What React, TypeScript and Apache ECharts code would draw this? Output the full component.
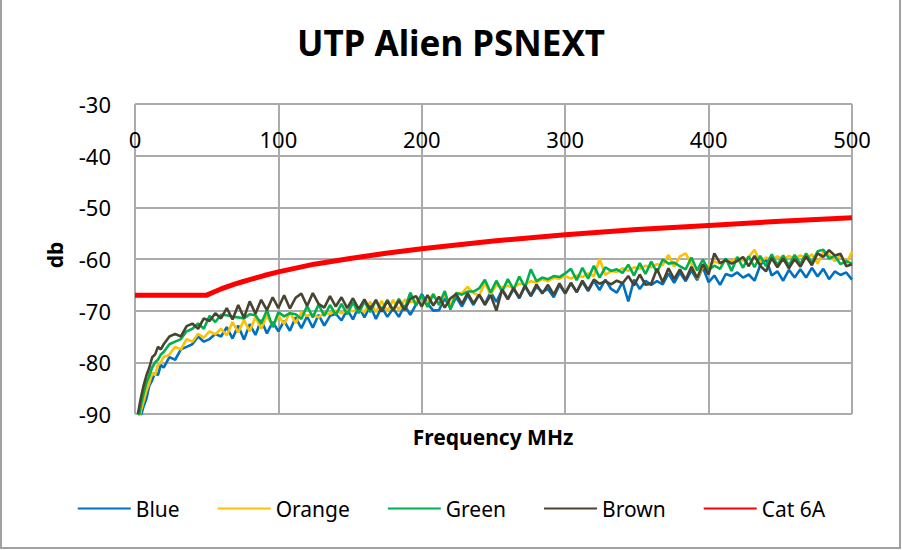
import React, { useEffect, useRef } from "react";
import * as echarts from "echarts";

const TITLE = "UTP Alien PSNEXT";
const X_NAME = "Frequency MHz";
const Y_NAME = "db";

const FREQ = [
  2, 4, 6, 8, 10, 12, 14, 16, 18, 20,
  24, 28, 32, 36, 40, 44, 48, 52, 56, 60,
  64, 68, 72, 76, 80, 84, 88, 92, 96, 100,
  104, 108, 112, 116, 120, 124, 128, 132, 136, 140,
  144, 148, 152, 156, 160, 164, 168, 172, 176, 180,
  184, 188, 192, 196, 200, 204, 208, 212, 216, 220,
  224, 228, 232, 236, 240, 244, 248, 252, 256, 260,
  264, 268, 272, 276, 280, 284, 288, 292, 296, 300,
  304, 308, 312, 316, 320, 324, 328, 332, 336, 340,
  344, 348, 352, 356, 360, 364, 368, 372, 376, 380,
  384, 388, 392, 396, 400, 404, 408, 412, 416, 420,
  424, 428, 432, 436, 440, 444, 448, 452, 456, 460,
  464, 468, 472, 476, 480, 484, 488, 492, 496, 500,
];

const BLUE = [
  -93, -90.5, -88.5, -87, -84.5, -83.5, -82, -82.5, -80.5, -81,
  -79, -79.5, -77.5, -77, -76.5, -75, -76, -75.5, -74.5, -75,
  -73.2, -75.4, -72.9, -75.6, -72.6, -74.7, -71.8, -74.4, -72.2, -74.0,
  -72.0, -73.9, -71.3, -73.4, -71.1, -73.3, -70.8, -72.9, -71.0, -70.6,
  -71.9, -69.8, -71.7, -69.2, -71.3, -69.0, -71.6, -69.3, -71.2, -69.6,
  -71.2, -69.0, -70.8, -68.8, -66.8, -68.6, -70.0, -69.9, -67.6, -69.5,
  -67.4, -69.2, -67.0, -68.9, -66.9, -68.7, -66.4, -68.3, -66.0, -67.8,
  -65.8, -67.6, -65.3, -67.2, -65.4, -66.4, -65.8, -67.4, -65.0, -66.7,
  -64.7, -66.4, -64.4, -66.2, -64.2, -66.0, -64.0, -65.8, -66.5, -64.5,
  -68.2, -64.0, -65.8, -64.2, -65.0, -64.3, -64.9, -62.8, -64.6, -62.6,
  -64.3, -62.2, -64.1, -61.6, -64.5, -63.2, -65.0, -62.9, -63.3, -62.6,
  -63.6, -63.0, -64.2, -61.2, -59.9, -63.2, -62.4, -64.2, -62.1, -63.6,
  -62.0, -63.6, -61.7, -63.4, -61.9, -63.9, -62.4, -63.1, -62.6, -64.0,
];

const ORANGE = [
  -92, -89.5, -87.5, -85.5, -84, -82, -82.5, -80.5, -80, -79,
  -78.5, -77, -77.5, -75.5, -76, -74.5, -75.2, -74.0, -74.6, -73.5,
  -74.8, -72.2, -74.2, -71.8, -74.0, -71.2, -73.5, -70.9, -73.0, -71.0,
  -72.6, -70.3, -72.4, -70.4, -71.0, -70.7, -71.3, -70.5, -70.6, -70.0,
  -70.5, -69.9, -70.1, -69.6, -70.3, -68.3, -70.3, -68.1, -70.2, -67.9,
  -69.9, -67.9, -68.3, -68.2, -68.7, -68.3, -66.8, -68.9, -66.8, -69.0,
  -66.6, -66.6, -65.4, -66.6, -67.1, -64.6, -66.9, -65.0, -65.5, -65.2,
  -65.6, -64.8, -64.9, -64.3, -64.5, -63.9, -64.3, -63.6, -63.8, -63.3,
  -63.8, -63.2, -63.5, -62.8, -63.3, -60.0, -63.1, -62.3, -62.5, -61.8,
  -62.3, -61.6, -61.9, -61.3, -61.6, -61.0, -61.2, -59.2, -61.5, -59.5,
  -58.9, -61.0, -63.8, -61.5, -61.3, -60.5, -60.9, -60.2, -60.4, -59.8,
  -60.3, -59.6, -58.2, -60.6, -59.7, -60.2, -59.5, -60.1, -59.4, -60.0,
  -59.3, -59.9, -59.1, -60.9, -58.6, -59.2, -60.4, -59.2, -60.9, -58.6,
];

const GREEN = [
  -91.5, -88.5, -86, -84, -82.5, -81, -80, -79.5, -78.5, -78,
  -76.5, -76, -75.5, -74, -73.5, -72.5, -73.5, -71.0, -72.2, -70.8,
  -70.9, -71.2, -71.3, -71.5, -70.7, -70.9, -72.5, -69.9, -73.2, -70.3,
  -71.1, -70.5, -70.7, -71.6, -69.1, -71.3, -68.8, -71.0, -68.9, -70.8,
  -68.7, -70.7, -68.4, -70.5, -68.2, -70.3, -68.0, -70.0, -67.9, -69.9,
  -67.7, -69.7, -66.5, -69.0, -67.0, -69.3, -66.8, -68.9, -66.2, -69.8,
  -66.6, -66.9, -66.3, -66.3, -65.7, -64.0, -66.5, -64.2, -66.3, -63.9,
  -65.9, -63.4, -65.5, -62.0, -64.3, -63.6, -63.9, -63.3, -63.5, -62.8,
  -61.9, -64.1, -61.7, -63.8, -61.3, -63.6, -61.6, -62.3, -62.0, -62.7,
  -61.1, -63.2, -60.8, -62.9, -60.5, -62.6, -60.1, -60.9, -60.7, -61.4,
  -62.0, -59.7, -62.2, -60.1, -62.1, -61.3, -61.9, -59.9, -62.3, -59.6,
  -61.7, -59.5, -61.6, -59.4, -61.4, -59.1, -61.2, -59.3, -61.3, -59.2,
  -61.0, -58.9, -60.8, -58.5, -58.2, -59.9, -59.4, -61.0, -60.4, -60.9,
];

const BROWN = [
  -90, -87, -84.5, -82.5, -81, -79, -78.5, -77, -77.5, -76.5,
  -75, -74.5, -75, -73, -72.5, -73.5, -71.5, -72.0, -70.5, -71.5,
  -69.5, -71.7, -68.9, -71.4, -68.2, -70.6, -67.9, -69.9, -67.4, -69.5,
  -67.0, -69.6, -67.5, -66.7, -69.1, -66.6, -68.7, -69.4, -67.2, -69.2,
  -67.4, -69.5, -67.6, -69.7, -67.8, -69.8, -67.9, -70.2, -68.1, -70.0,
  -68.0, -69.9, -67.7, -67.2, -69.2, -67.0, -69.0, -67.3, -69.4, -67.6,
  -66.8, -68.7, -66.6, -68.6, -66.9, -68.9, -67.0, -70.0, -65.9, -67.7,
  -65.6, -67.5, -65.1, -67.1, -64.9, -66.7, -65.0, -66.9, -64.7, -66.6,
  -64.6, -66.4, -64.2, -66.0, -64.0, -64.8, -64.3, -64.9, -64.2, -64.7,
  -63.3, -65.1, -63.0, -65.0, -64.8, -61.9, -64.5, -61.8, -63.9, -62.0,
  -64.0, -61.5, -63.7, -61.0, -63.0, -58.9, -60.8, -60.2, -60.9, -60.4,
  -59.6, -61.4, -59.4, -61.3, -62.4, -59.8, -61.6, -59.9, -61.8, -60.0,
  -61.5, -59.5, -61.2, -58.9, -59.6, -58.3, -59.3, -59.0, -61.4, -61.0,
];

const LIMIT_FREQ = [0, 50, 55, 60, 65, 70, 75, 80, 90, 100, 125, 150, 175, 200, 250, 300, 350, 400, 450, 500];
const LIMIT_DB = [-67, -67, -66.4, -65.8, -65.3, -64.8, -64.4, -64.0, -63.2, -62.5, -61.0, -59.9, -58.9, -58.0, -56.5, -55.3, -54.3, -53.5, -52.7, -52.0];

const NAMES = ["Blue", "Orange", "Green", "Brown", "Cat 6A"];
const COLORS = ["#0070C0", "#FFC000", "#00B050", "#4A4330", "#FF0000"];

const FONT = "'Noto Sans', 'DejaVu Sans', sans-serif";

function pairs(xs: number[], ys: number[]) {
  return xs.map((x, i) => [x, ys[i]]);
}

export default function App() {
  const ref = useRef<HTMLDivElement>(null);

  useEffect(() => {
    document.body.style.margin = "0";
    if (!ref.current) return;
    const chart = echarts.init(ref.current, null, { renderer: "svg" });
    const noisy = [BLUE, ORANGE, GREEN, BROWN];
    const series: any[] = noisy.map((ys, i) => ({
      name: NAMES[i],
      type: "line",
      data: pairs(FREQ, ys),
      showSymbol: false,
      symbol: "none",
      lineStyle: { color: COLORS[i], width: 2.6 },
      itemStyle: { color: COLORS[i] },
      z: 2 + i,
    }));
    series.push({
      name: NAMES[4],
      type: "line",
      data: pairs(LIMIT_FREQ, LIMIT_DB),
      showSymbol: false,
      symbol: "none",
      lineStyle: { color: COLORS[4], width: 5 },
      itemStyle: { color: COLORS[4] },
      z: 10,
    });

    chart.setOption({
      animation: false,
      backgroundColor: "#ffffff",
      textStyle: { fontFamily: FONT },
      title: {
        text: TITLE,
        left: "center",
        top: 20,
        textStyle: { fontFamily: FONT, fontSize: 35, fontWeight: "bold", color: "#000" },
      },
      legend: {
        data: NAMES,
        left: "center",
        top: 493,
        itemWidth: 53,
        itemHeight: 14,
        itemGap: 37,
        itemStyle: { opacity: 0 },
        textStyle: { fontFamily: FONT, fontSize: 21, color: "#000" },
      },
      grid: { left: 135, top: 104, width: 717, height: 310 },
      xAxis: {
        type: "value",
        min: 0,
        max: 500,
        interval: 100,
        position: "top",
        axisLine: { show: false },
        axisTick: { show: false },
        axisLabel: { inside: true, margin: 24, fontSize: 22, color: "#000", fontFamily: FONT },
        splitLine: { show: true, lineStyle: { color: "#ABABAB", width: 2 } },
      },
      yAxis: {
        type: "value",
        min: -90,
        max: -30,
        interval: 10,
        axisLine: { show: false },
        axisTick: { show: false },
        axisLabel: { margin: 24, fontSize: 22, color: "#000", fontFamily: FONT },
        splitLine: { show: true, lineStyle: { color: "#ABABAB", width: 2 } },
      },
      graphic: [
        {
          type: "text",
          x: 493,
          y: 437,
          style: { text: X_NAME, font: `bold 21px ${FONT}`, fill: "#000", align: "center", verticalAlign: "middle" },
        },
        {
          type: "text",
          x: 55,
          y: 255,
          rotation: Math.PI / 2,
          style: { text: Y_NAME, font: `bold 21px ${FONT}`, fill: "#000", align: "center", verticalAlign: "middle" },
        },
        {
          type: "polyline",
          shape: { points: [[1, 0], [1, 548], [900, 548], [900, 0]] },
          style: { stroke: "#A0A0A0", lineWidth: 2, fill: "none" },
          silent: true,
        },
      ],
      series,
    });
    return () => chart.dispose();
  }, []);

  return <div ref={ref} style={{ width: 902, height: 550 }} />;
}
